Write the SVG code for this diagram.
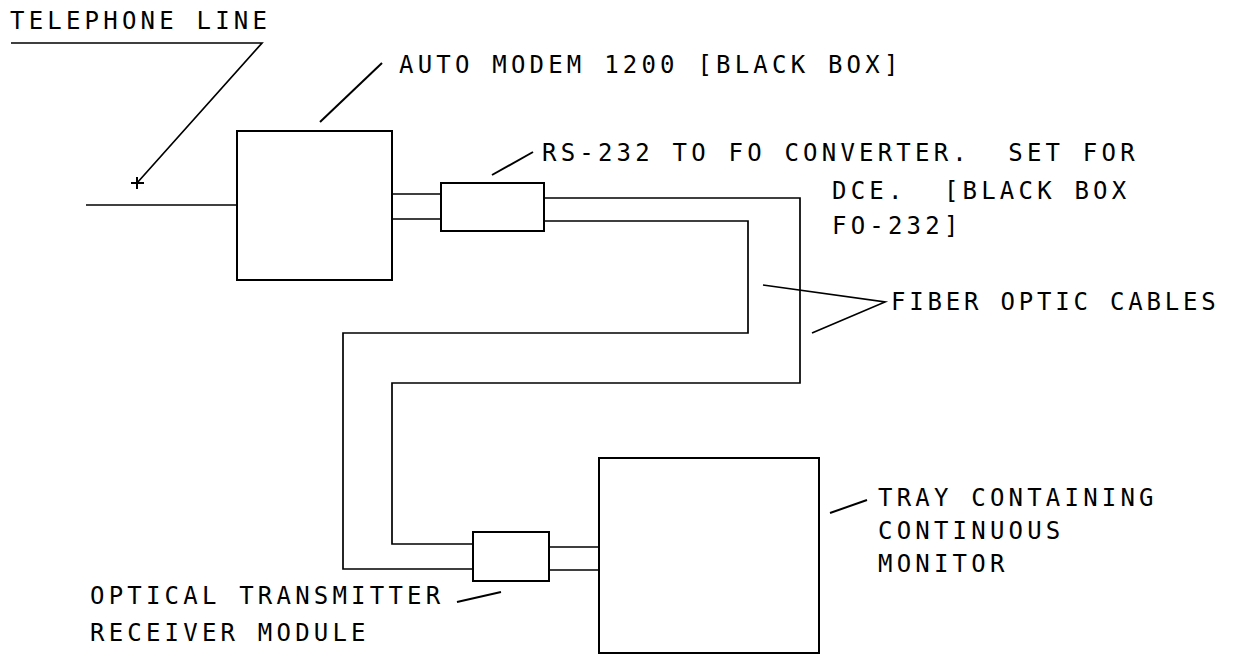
<svg xmlns="http://www.w3.org/2000/svg" width="1248" height="656" viewBox="0 0 1248 656">
<style>
.box{fill:none;stroke:#000;stroke-width:2}
.ln{fill:none;stroke:#000;stroke-width:1.7;stroke-linejoin:miter}
.ld{fill:none;stroke:#000;stroke-width:2}
.t{font-family:"DejaVu Sans Mono","Liberation Mono",monospace;font-size:24px;letter-spacing:4.2px;fill:#000;white-space:pre}
</style>
<rect width="1248" height="656" fill="#fff"/>
<g id="connectors">
  <path class="ln" d="M86,205 H237"/>
  <path class="ln" d="M392,194 H441 M392,219 H441"/>
  <path class="ln" d="M544,198 H800 V383 H392 V544 H473"/>
  <path class="ln" d="M544,221 H748 V333 H343 V569 H473"/>
  <path class="ln" d="M549,547 H599 M549,570 H599"/>
</g>
<g id="telephone-line">
  <text class="t" x="10" y="29">TELEPHONE LINE</text>
  <path class="ln" d="M11,43 H262 L137,183"/>
  <path class="ld" d="M131,183 H144 M137,177 V189"/>
</g>
<g id="modem">
  <rect class="box" x="237" y="131" width="155" height="149"/>
  <path class="ld" d="M320,122 L382,63"/>
  <text class="t" x="399" y="73">AUTO MODEM 1200 [BLACK BOX]</text>
</g>
<g id="converter">
  <rect class="box" x="441" y="183" width="103" height="48"/>
  <path class="ld" d="M492,175 L533,152"/>
  <text class="t" x="542" y="161" xml:space="preserve">RS-232 TO FO CONVERTER.  SET FOR</text>
  <text class="t" x="832" y="199" xml:space="preserve">DCE.  [BLACK BOX</text>
  <text class="t" x="832" y="234">FO-232]</text>
</g>
<g id="fiber-label">
  <path class="ln" d="M763,285 L885,302 L812,333"/>
  <text class="t" x="891" y="310" style="letter-spacing:3.8px">FIBER OPTIC CABLES</text>
</g>
<g id="transmitter">
  <rect class="box" x="473" y="532" width="76" height="49"/>
  <path class="ld" d="M457,602 L501,592"/>
  <text class="t" x="90" y="604">OPTICAL TRANSMITTER</text>
  <text class="t" x="90" y="641">RECEIVER MODULE</text>
</g>
<g id="tray">
  <rect class="box" x="599" y="458" width="220" height="195"/>
  <path class="ld" d="M830,513 L867,500"/>
  <text class="t" x="878" y="506">TRAY CONTAINING</text>
  <text class="t" x="878" y="539">CONTINUOUS</text>
  <text class="t" x="878" y="572">MONITOR</text>
</g>
</svg>
